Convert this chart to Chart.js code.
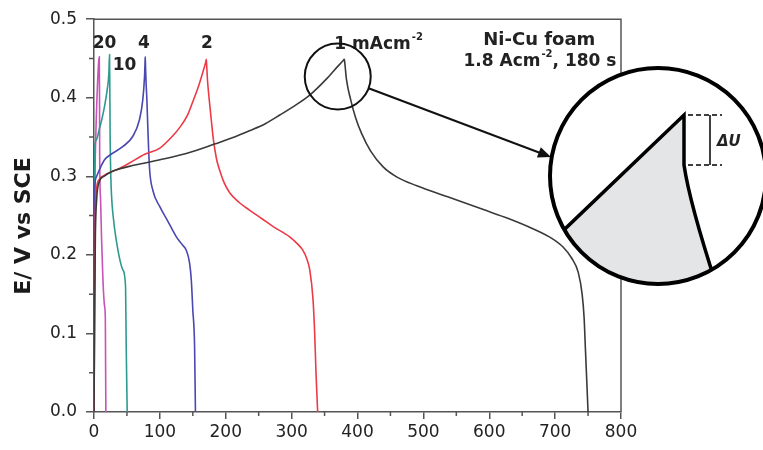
<!DOCTYPE html>
<html>
<head>
<meta charset="utf-8">
<script src="https://cdn.jsdelivr.net/npm/chart.js@4.4.0/dist/chart.umd.min.js"></script>
<style>
    html, body { margin: 0; padding: 0; background: #fff; }
    #wrap { width: 763px; height: 450px; }
</style>
</head>
<body>
<div id="wrap"><canvas id="grafica"></canvas></div>
<script>
// time (s) and potential (V vs SCE), one pair per current density (mA cm-2)
const t1 = [0, 1, 2, 4, 8, 15, 30, 60, 100, 140, 183, 210, 236, 260, 282, 305, 327, 353, 370, 378, 380,
    381, 383.3, 389.8, 397, 406, 420, 438.9, 460, 490, 540, 590, 630, 667, 695, 712, 725, 735, 741, 744, 746, 748, 750];
const e1 = [0, 0.12, 0.22, 0.27, 0.293, 0.3, 0.307, 0.314, 0.321, 0.329, 0.341, 0.349, 0.358, 0.367, 0.378, 0.39, 0.403, 0.424, 0.44, 0.447, 0.449,
    0.442, 0.423, 0.397, 0.375, 0.355, 0.332, 0.312, 0.299, 0.288, 0.273, 0.258, 0.246, 0.233, 0.221, 0.21, 0.196, 0.178, 0.15, 0.12, 0.08, 0.04, 0];

const t2 = [0, 1, 2, 4, 8, 15, 24, 36, 54, 77, 100, 120, 130, 142, 150, 158, 165, 169.5, 170.5,
    171.3, 172.5, 175, 178, 181.5, 186, 191, 197, 206, 220, 236, 255, 272, 297, 310, 317, 323, 327.5, 332.5, 335, 337, 338.5, 339.5];
const e2 = [0, 0.15, 0.25, 0.285, 0.296, 0.301, 0.305, 0.309, 0.317, 0.328, 0.336, 0.352, 0.362, 0.378, 0.395, 0.413, 0.432, 0.445, 0.449,
    0.437, 0.42, 0.397, 0.372, 0.345, 0.322, 0.307, 0.293, 0.279, 0.267, 0.257, 0.246, 0.236, 0.223, 0.213, 0.206, 0.195, 0.181, 0.143, 0.1, 0.05, 0.02, 0];

const t4 = [0, 0.5, 1, 3, 8, 16, 24, 44, 59, 69, 74, 76.7, 77.4, 77.8,
    78.3, 79, 80.3, 82, 84.3, 89.4, 99.5, 112, 125, 135, 140, 145, 147.7, 150, 152.7, 154];
const e4 = [0, 0.2, 0.28, 0.298, 0.308, 0.321, 0.327, 0.338, 0.351, 0.372, 0.397, 0.427, 0.443, 0.452,
    0.438, 0.42, 0.397, 0.355, 0.31, 0.282, 0.262, 0.243, 0.223, 0.212, 0.206, 0.19, 0.168, 0.13, 0.083, 0];

const t10 = [0, 0.5, 1, 3.3, 8, 12, 16, 20, 22.5, 23.6,
    24.5, 25.5, 27, 28.6, 33.7, 43.8, 47.9, 48.9, 50.4];
const e10 = [0, 0.25, 0.334, 0.346, 0.36, 0.373, 0.389, 0.41, 0.43, 0.455,
    0.35, 0.3, 0.27, 0.253, 0.219, 0.181, 0.16, 0.083, 0];

const t20 = [0, 0.5, 1.5, 3, 5, 7, 8,
    8.4, 8.6, 10, 11.5, 13.5, 16, 17.2, 17.6, 18];
const e20 = [0, 0.2, 0.3, 0.36, 0.41, 0.445, 0.452,
    0.4, 0.33, 0.27, 0.22, 0.17, 0.135, 0.12, 0.06, 0];

// curve labels (current density) and the sample note
const curveLabels = ['20', '10', '4', '2', '1 mAcm^{-2}'];
const curveLabelX = [16, 46.4, 75.7, 171.4, 432];
const curveLabelY = [0.4635, 0.4355, 0.4635, 0.4635, 0.462];
const noteLines = ['Ni-Cu foam', '1.8 Acm^{-2}, 180 s'];
const noteX = [676, 677];
const noteY = [0.4673, 0.4406];

const xTicks = [0, 100, 200, 300, 400, 500, 600, 700, 800];
const yTicks = [0, 0.1, 0.2, 0.3, 0.4, 0.5];

const FONT = '"DejaVu Sans", "Liberation Sans", Arial, sans-serif';

function pairs(ts, es) {
    return ts.map((t, i) => ({ x: t, y: es[i] }));
}

function curve(label, ts, es, color) {
    return {
        label: label,
        data: pairs(ts, es),
        showLine: true,
        borderColor: color,
        borderWidth: 1.6,
        pointRadius: 0,
        fill: false,
        cubicInterpolationMode: 'monotone'
    };
}

// draws text with ^{..} parts raised as superscripts
function drawRich(ctx, text, x, y, size) {
    const parts = text.split(/\^\{(.*?)\}/);
    const supSize = Math.round(size * 0.6);
    let total = 0;
    parts.forEach((p, i) => {
        ctx.font = `bold ${i % 2 ? supSize : size}px ${FONT}`;
        total += ctx.measureText(p).width + (i % 2 ? 1 : 0);
    });
    let cx = x - total / 2;
    ctx.textAlign = 'left';
    ctx.textBaseline = 'alphabetic';
    parts.forEach((p, i) => {
        const sup = i % 2 === 1;
        ctx.font = `bold ${sup ? supSize : size}px ${FONT}`;
        ctx.fillText(p, cx + (sup ? 1 : 0), sup ? y - size * 0.55 : y);
        cx += ctx.measureText(p).width + (sup ? 1 : 0);
    });
}

const decor = {
    id: 'decor',
    afterDraw(chart) {
        const { ctx, chartArea: a, scales: { x, y } } = chart;
        ctx.save();

        // frame top and right
        ctx.strokeStyle = '#555';
        ctx.lineWidth = 1.5;
        ctx.beginPath();
        ctx.moveTo(a.left, a.top);
        ctx.lineTo(a.right, a.top);
        ctx.lineTo(a.right, a.bottom);
        ctx.stroke();

        // minor ticks
        ctx.beginPath();
        for (let v = 50; v < 800; v += 100) {
            const px = x.getPixelForValue(v);
            ctx.moveTo(px, a.bottom);
            ctx.lineTo(px, a.bottom + 4);
        }
        for (let v = 0.05; v < 0.5; v += 0.1) {
            const py = y.getPixelForValue(v);
            ctx.moveTo(a.left - 5, py);
            ctx.lineTo(a.left, py);
        }
        ctx.stroke();

        // y axis title
        ctx.save();
        ctx.translate(24, 226);
        ctx.rotate(-Math.PI / 2);
        ctx.font = `bold 22px ${FONT}`;
        ctx.fillStyle = '#1a1a1a';
        ctx.textAlign = 'center';
        ctx.textBaseline = 'middle';
        ctx.fillText('E/ V vs SCE', 0, 0);
        ctx.restore();

        // labels
        ctx.fillStyle = '#222';
        curveLabels.forEach((txt, i) => {
            drawRich(ctx, txt, x.getPixelForValue(curveLabelX[i]), y.getPixelForValue(curveLabelY[i]), 17);
        });
        noteLines.forEach((txt, i) => {
            drawRich(ctx, txt, x.getPixelForValue(noteX[i]), y.getPixelForValue(noteY[i]), i === 0 ? 18 : 17);
        });

        // small circle round the 1 mA peak
        const sx = x.getPixelForValue(370), sy = y.getPixelForValue(0.427), sr = 33;
        ctx.strokeStyle = '#111';
        ctx.lineWidth = 2;
        ctx.beginPath();
        ctx.arc(sx, sy, sr, 0, Math.PI * 2);
        ctx.stroke();

        // arrow to the magnified view
        const tipX = 551, tipY = 157;
        const dx = tipX - sx, dy = tipY - sy, len = Math.hypot(dx, dy);
        const ux = dx / len, uy = dy / len;
        ctx.beginPath();
        ctx.moveTo(sx + ux * sr, sy + uy * sr);
        ctx.lineTo(tipX - ux * 10, tipY - uy * 10);
        ctx.stroke();
        ctx.fillStyle = '#111';
        ctx.beginPath();
        ctx.moveTo(tipX, tipY);
        ctx.lineTo(tipX - ux * 13 - uy * 5.5, tipY - uy * 13 + ux * 5.5);
        ctx.lineTo(tipX - ux * 13 + uy * 5.5, tipY - uy * 13 - ux * 5.5);
        ctx.closePath();
        ctx.fill();

        // magnified view
        const cx = 658, cy = 176, R = 108;
        ctx.save();
        ctx.beginPath();
        ctx.arc(cx, cy, R, 0, Math.PI * 2);
        ctx.fillStyle = '#fff';
        ctx.fill();
        ctx.clip();

        const P = [684, 115], D = [684, 165];
        ctx.beginPath();
        ctx.moveTo(P[0], P[1]);
        ctx.lineTo(545, 248);
        ctx.lineTo(545, 300);
        ctx.lineTo(725, 300);
        ctx.lineTo(718, 290);
        ctx.quadraticCurveTo(690, 205, D[0], D[1]);
        ctx.closePath();
        ctx.fillStyle = '#e4e5e7';
        ctx.fill();

        ctx.strokeStyle = '#000';
        ctx.lineWidth = 3.5;
        ctx.beginPath();
        ctx.moveTo(545, 248);
        ctx.lineTo(P[0], P[1]);
        ctx.lineTo(D[0], D[1]);
        ctx.quadraticCurveTo(690, 205, 718, 290);
        ctx.stroke();

        // delta U bracket
        ctx.lineWidth = 1.5;
        ctx.setLineDash([5, 3]);
        ctx.beginPath();
        ctx.moveTo(688, P[1]); ctx.lineTo(722, P[1]);
        ctx.moveTo(688, D[1]); ctx.lineTo(722, D[1]);
        ctx.stroke();
        ctx.setLineDash([]);
        ctx.beginPath();
        ctx.moveTo(710, P[1]); ctx.lineTo(710, D[1]);
        ctx.stroke();
        ctx.fillStyle = '#222';
        ctx.font = `italic bold 15px ${FONT}`;
        ctx.textAlign = 'left';
        ctx.textBaseline = 'alphabetic';
        ctx.fillText('ΔU', 717, 146);
        ctx.restore();

        ctx.strokeStyle = '#000';
        ctx.lineWidth = 4;
        ctx.beginPath();
        ctx.arc(cx, cy, R, 0, Math.PI * 2);
        ctx.stroke();

        ctx.restore();
    }
};

const canvas = document.getElementById('grafica');
new Chart(canvas, {
    type: 'scatter',
    data: {
        datasets: [
            curve('1 mA cm-2', t1, e1, '#3a3a3a'),
            curve('2 mA cm-2', t2, e2, '#ec3a46'),
            curve('4 mA cm-2', t4, e4, '#4848b0'),
            curve('10 mA cm-2', t10, e10, '#2e9a8e'),
            curve('20 mA cm-2', t20, e20, '#c752b8')
        ]
    },
    options: {
        responsive: true,
        maintainAspectRatio: false,
        animation: false,
        layout: { padding: { left: 0, right: 142, top: 19, bottom: 0 } },
        plugins: {
            legend: { display: false },
            tooltip: { enabled: false }
        },
        scales: {
            x: {
                type: 'linear',
                min: 0,
                max: 800,
                afterFit: s => { s.height = 38; },
                afterBuildTicks: s => { s.ticks = xTicks.map(v => ({ value: v })); },
                ticks: {
                    font: { family: FONT, size: 17 },
                    color: '#222',
                    padding: 3,
                    maxRotation: 0
                },
                grid: { drawOnChartArea: false, drawTicks: true, tickLength: 7, color: '#555', lineWidth: 1.5 },
                border: { display: true, color: '#555', width: 1.5 }
            },
            y: {
                min: 0,
                max: 0.5,
                afterFit: s => { s.width = 94; },
                afterBuildTicks: s => { s.ticks = yTicks.map(v => ({ value: v })); },
                ticks: {
                    font: { family: FONT, size: 17 },
                    color: '#222',
                    padding: 9,
                    callback: v => v.toFixed(1)
                },
                grid: { drawOnChartArea: false, drawTicks: true, tickLength: 8, color: '#555', lineWidth: 1.5 },
                border: { display: true, color: '#555', width: 1.5 }
            }
        }
    },
    plugins: [decor]
});
</script>
</body>
</html>
